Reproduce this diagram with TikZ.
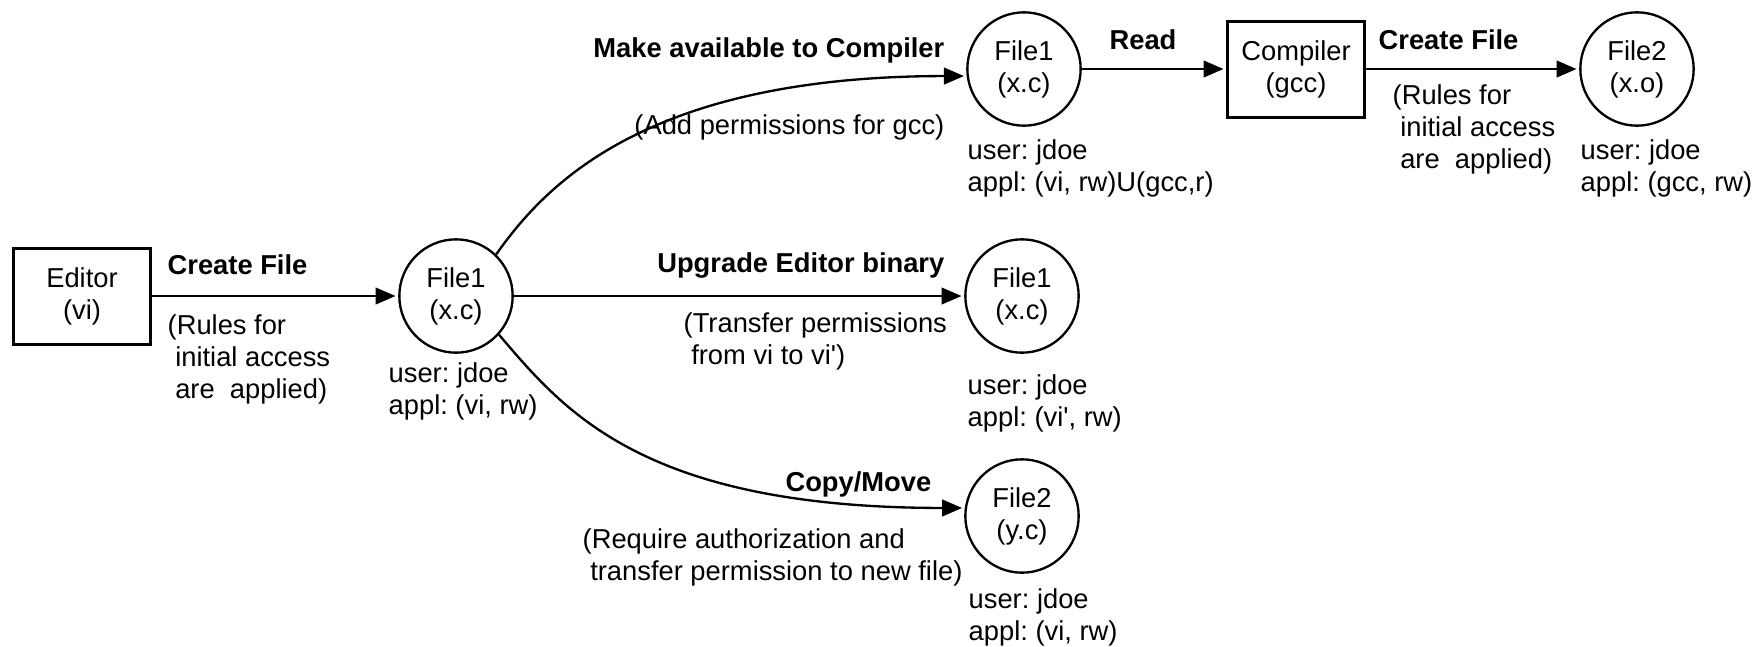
\documentclass[tikz,border=0pt]{standalone}
\usepackage{fontspec}
\setmainfont{Liberation Sans}
\usetikzlibrary{arrows.meta,calc}
\frenchspacing
\begin{document}
\begin{tikzpicture}[x=0.3pt,y=-0.3pt,
  every node/.style={font=\fontsize{8.2pt}{9.6pt}\selectfont, inner sep=0pt},
  boxnode/.style={draw, line width=0.9pt, minimum width=41pt, minimum height=28.8pt, align=center},
  filenode/.style={draw, circle, line width=0.7pt, minimum size=34pt, align=center},
  lbl/.style={align=left, anchor=north west},
  act/.style={font=\fontsize{8.2pt}{9.6pt}\selectfont\bfseries},
  flow/.style={line width=0.7pt, -{Triangle[length=6pt,width=5pt]}, shorten >=0.8pt}
]
\useasboundingbox (0,0) rectangle (1755,646);
% main nodes
\node[boxnode] (ed) at (82,296) {Editor\\(vi)};
\node[filenode] (f1m) at (456,296) {File1\\(x.c)};
\node[filenode] (f1a) at (1024,69) {File1\\(x.c)};
\node[boxnode] (cc) at (1296,69) {Compiler\\(gcc)};
\node[filenode] (f2a) at (1637,69) {File2\\(x.o)};
\node[filenode] (f1b) at (1022,296) {File1\\(x.c)};
\node[filenode] (f2b) at (1022,516) {File2\\(y.c)};
% connectors
\draw[flow] (ed) -- (f1m);
\draw[flow] (f1m.46) .. controls ($(f1m.46)+(48,-68)$) and ($(f1a.187)+(-322,0)$) .. (f1a.187);
\draw[flow] (f1m) -- (f1b);
\draw[flow] (f1m.-42) .. controls ($(f1m.-42)+(65,76)$) and ($(f2b.172)+(-322,0)$) .. (f2b.172);
\draw[flow] (f1a) -- (cc);
\draw[flow] (cc) -- (f2a);
% action labels
\node[act, anchor=west] (a1) at (167,265) {Create File};
\node[lbl] (n1) at (167,314) {(Rules for\\\ initial access\\\ are\ \ applied)};
\node[act, anchor=east] (a2) at (945,50) {Make available to Compiler};
\node[anchor=east] (n2) at (945,127) {(Add permissions for gcc)};
\node[act] (a3) at (1143,40) {Read};
\node[act, anchor=west] (a4) at (1378,40) {Create File};
\node[lbl] (n4) at (1392,84) {(Rules for\\\ initial access\\\ are\ \ applied)};
\node[act, anchor=east] (a5) at (945,265) {Upgrade Editor binary};
\node[lbl] (n5) at (683,312) {(Transfer permissions\\\ from vi to vi\textquotesingle)};
\node[act, anchor=east] (a6) at (932,484) {Copy/Move};
\node[lbl] (n6) at (582,528) {(Require authorization and\\\ transfer permission to new file)};
% attribute labels
\node[lbl] (u1) at (388,362) {user: jdoe\\appl: (vi, rw)};
\node[lbl] (u2) at (967,139) {user: jdoe\\appl: (vi, rw)U(gcc,r)};
\node[lbl] (u3) at (1580,139) {user: jdoe\\appl: (gcc, rw)};
\node[lbl] (u4) at (967,374) {user: jdoe\\appl: (vi\textquotesingle, rw)};
\node[lbl] (u5) at (968,588) {user: jdoe\\appl: (vi, rw)};
\end{tikzpicture}
\end{document}
